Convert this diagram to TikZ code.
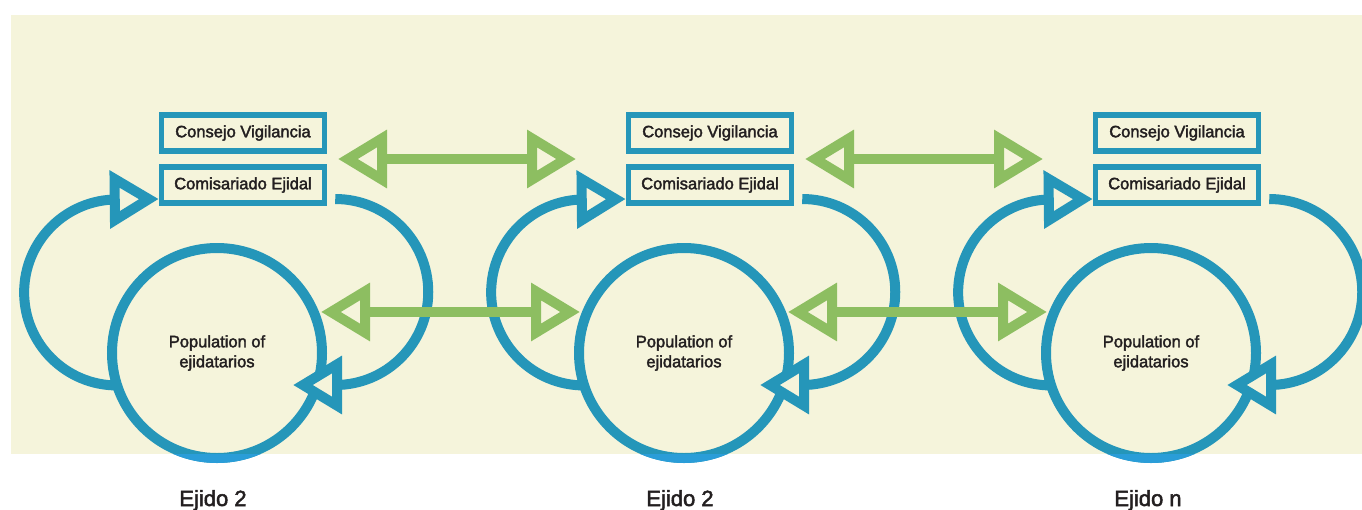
\documentclass[tikz,border=0pt]{standalone}
\usepackage{fontspec}
\setmainfont{Liberation Sans}
\newfontfamily\medfont{Liberation Sans}[RawFeature={embolden=2.2}]
\usetikzlibrary{arrows.meta,calc}
\definecolor{cream}{HTML}{F5F4DB}
\definecolor{eblue}{HTML}{2596B9}
\definecolor{eblue2}{HTML}{2A9DD8}
\definecolor{egreen}{HTML}{8DBE61}
\definecolor{etext}{HTML}{231F20}
\tikzset{
  popnode/.style={circle, draw=eblue, line width=10pt, minimum size=210pt, inner sep=0pt, outer sep=0pt,
    align=center, text=etext, font=\medfont\fontsize{16.5}{20}\selectfont},
  boxnode/.style={rectangle, draw=eblue, line width=5.5pt, minimum width=163pt, minimum height=36pt,
    inner sep=0pt, text=etext, font=\medfont\fontsize{16.5}{20}\selectfont},
  bluehead/.tip={Triangle[length=49pt, width=56pt, line width=10pt, fill=cream]},
  greenhead/.tip={Triangle[length=49pt, width=56pt, line width=10pt, fill=cream]},
  loopline/.style={draw=eblue, line width=10pt, -bluehead},
  exchange/.style={draw=egreen, line width=10pt, greenhead-greenhead},
  ejidolabel/.style={anchor=base, text=etext, font=\medfont\fontsize{22}{26}\selectfont}
}
\begin{document}
\begin{tikzpicture}[x=1pt,y=1pt]
\useasboundingbox (0,0) rectangle (1362,-509);
\fill[cream] (11,-15) rectangle (1362,-454);
\foreach \i/\d in {1/0,2/467,3/934}{
  \node[popnode] (pop\i) at (217+\d,-353) {Population of\\ejidatarios};
  \begin{scope}
    \clip (0,-454) rectangle (1362,-470);
    \draw[eblue2, line width=10pt] (pop\i.center) circle[radius=105pt];
  \end{scope}
  \node[boxnode] (cv\i) at (243+\d,-133) {Consejo Vigilancia};
  \node[boxnode] (com\i) at (243+\d,-185) {Comisariado Ejidal};
  \coordinate (lt\i) at ([xshift=0pt,yshift=-14pt]com\i.west);
  \coordinate (rs\i) at ([xshift=8pt,yshift=-14pt]com\i.east);
  \coordinate (rt\i) at ([xshift=76pt,yshift=-32pt]pop\i.center);
  \draw[loopline] (pop\i.198) arc[start angle=270, end angle=90, radius=93pt] -- (lt\i);
  \draw[loopline] (rs\i) arc[start angle=90, end angle=-90, radius=93pt] -- (rt\i);
}
\foreach \i/\j in {1/2,2/3}{
  \draw[exchange] ([xshift=10.75pt]$(cv\i.south east)!0.5!(com\i.north east)$)
     -- ([xshift=-49.75pt]$(cv\j.south west)!0.5!(com\j.north west)$);
  \draw[exchange] ([xshift=7.35pt]pop\i.23) -- ([xshift=-7.35pt]pop\j.157);
}
\node[ejidolabel] (e1) at (213,-506) {Ejido 2};
\node[ejidolabel] (e2) at (680,-506) {Ejido 2};
\node[ejidolabel] (e3) at (1148,-506) {Ejido n};
\end{tikzpicture}
\end{document}
